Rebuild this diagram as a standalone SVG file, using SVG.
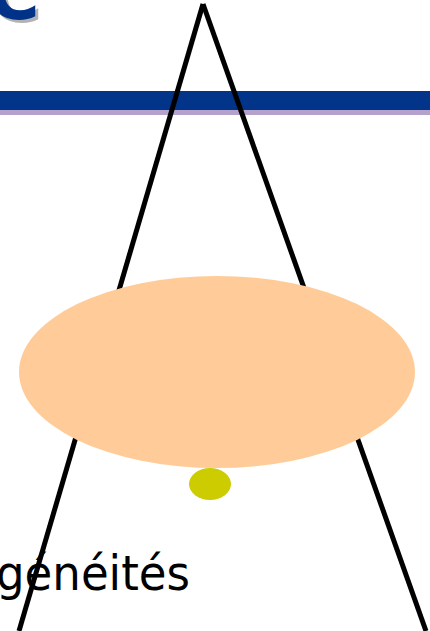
<svg xmlns="http://www.w3.org/2000/svg" width="430" height="631" viewBox="0 0 430 631">
<style>
.title{font-family:"DejaVu Sans",sans-serif;font-weight:bold;font-size:72px}
.body{font-family:"DejaVu Sans",sans-serif;font-size:48px;fill:#000}
.ray{stroke:#000;stroke-width:5;fill:none}
</style>
<rect width="430" height="631" fill="#fff"/>
<g id="title">
<text class="title" x="-10" y="22" fill="#B2B2B2">C</text>
<text class="title" x="-13" y="19" fill="#003388">C</text>
</g>
<g id="band">
<rect x="0" y="91" width="430" height="19" fill="#023489"/>
<rect x="0" y="110" width="430" height="5" fill="#B4A2CC"/>
</g>
<g id="connectors">
<line class="ray" x1="203" y1="4" x2="19" y2="631"/>
<line class="ray" x1="203" y1="4" x2="426" y2="631"/>
</g>
<g id="lens">
<ellipse cx="217" cy="372" rx="198" ry="96" fill="#FFCC99"/>
</g>
<g id="spot">
<ellipse cx="210" cy="484" rx="21" ry="16" fill="#CCCC00"/>
</g>
<g id="label">
<text class="body" x="-4" y="590" textLength="194" lengthAdjust="spacingAndGlyphs">généités</text>
</g>
</svg>
